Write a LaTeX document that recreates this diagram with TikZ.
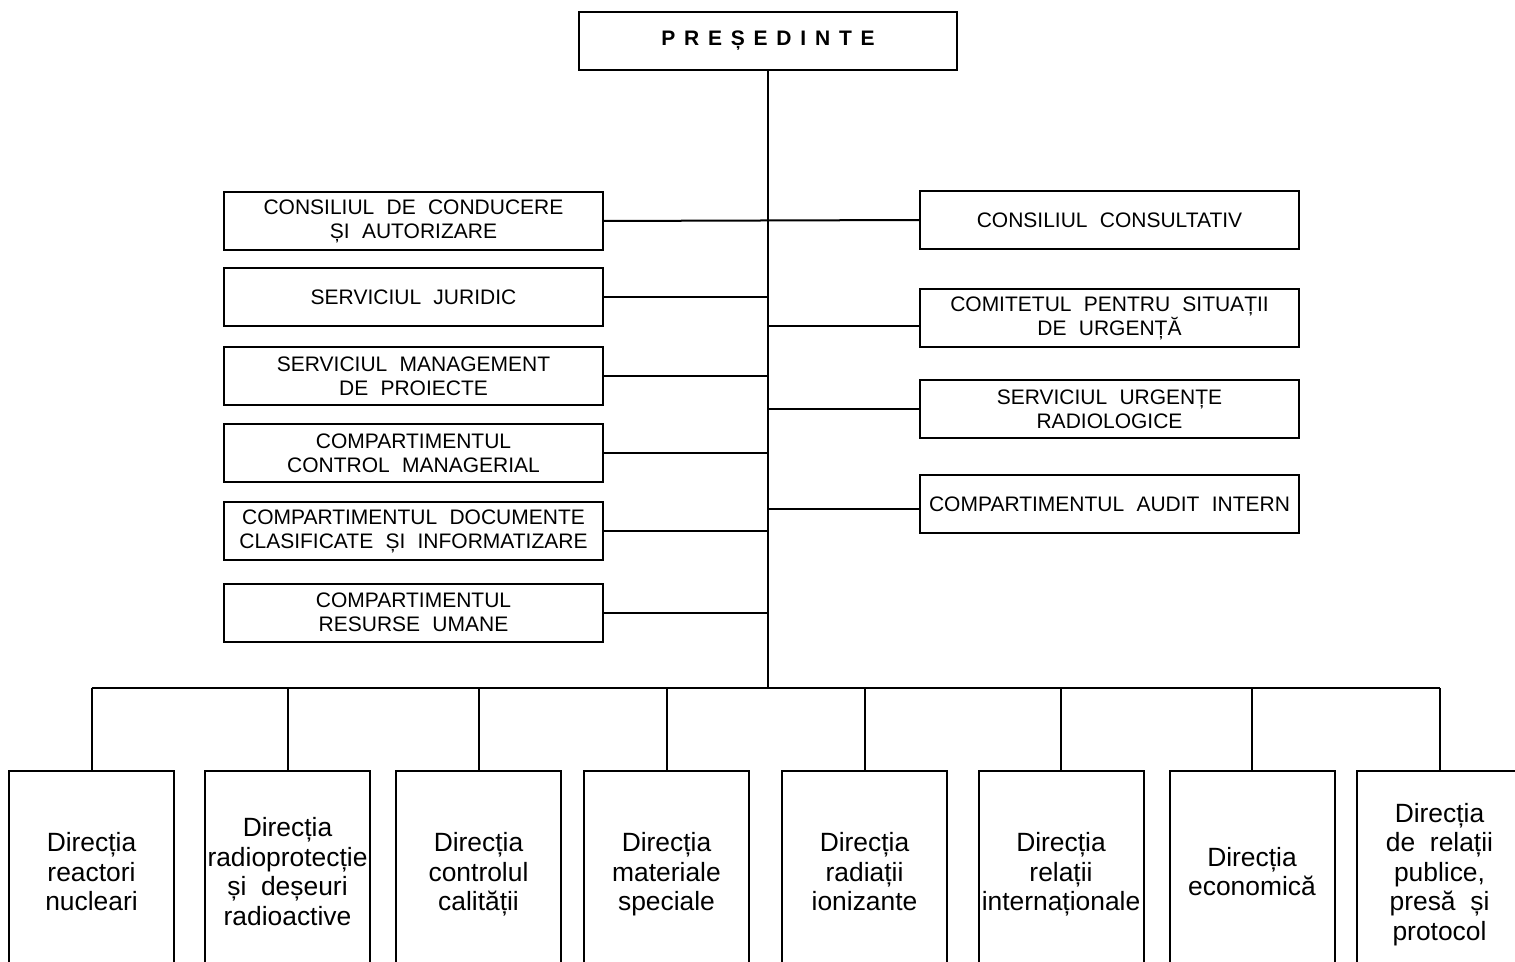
\documentclass[tikz,border=0pt]{standalone}
\usepackage{fontspec}
\setmainfont{Liberation Sans}
\newfontfamily\capsfont[WordSpace=2.1]{Liberation Sans}
\begin{document}
\begin{tikzpicture}[x=0.5pt,y=-0.5pt,line width=1pt,
  box/.style={draw,line width=1pt,inner sep=0pt,outer sep=0pt,align=center},
  sbox/.style={box,minimum width=189.5pt,minimum height=29pt,font=\capsfont\fontsize{10.5}{12}\selectfont},
  dbox/.style={box,minimum width=82.5pt,minimum height=105pt,font=\fontsize{13.2}{14.75}\selectfont,
    execute at begin node={\strut},execute at end node={\strut}},
  link/.style={line width=1pt}]
\clip (0,0) rectangle (1515,962);
% president
\node[box,minimum width=189pt,minimum height=29pt,font=\bfseries\fontsize{10.5}{12}\selectfont] (pres) at (768,41)
  {P\hspace{4.4pt}R\hspace{4.4pt}E\hspace{4.4pt}Ș\hspace{4.4pt}E\hspace{4.4pt}D\hspace{4.4pt}I\hspace{4.4pt}N\hspace{4.4pt}T\hspace{4.4pt}E};
% left
\node[sbox] (l1) at (413.5,221) {CONSILIUL DE CONDUCERE\\ȘI AUTORIZARE};
\node[sbox] (l2) at (413.5,297) {SERVICIUL JURIDIC};
\node[sbox] (l3) at (413.5,376) {SERVICIUL MANAGEMENT\\DE PROIECTE};
\node[sbox] (l4) at (413.5,453) {COMPARTIMENTUL\\CONTROL MANAGERIAL};
\node[sbox] (l5) at (413.5,531) {COMPARTIMENTUL DOCUMENTE\\CLASIFICATE ȘI INFORMATIZARE};
\node[sbox] (l6) at (413.5,612.5) {COMPARTIMENTUL\\RESURSE UMANE};
% right
\node[sbox] (r1) at (1109.5,220) {CONSILIUL CONSULTATIV};
\node[sbox] (r2) at (1109.5,318.5) {COMITETUL PENTRU SITUAȚII\\DE URGENȚĂ};
\node[sbox] (r3) at (1109.5,409) {SERVICIUL URGENȚE\\RADIOLOGICE};
\node[sbox] (r4) at (1109.5,504) {COMPARTIMENTUL AUDIT INTERN};
% bottom
\node[dbox] (b1) at (91.5,876) {Direcția\\reactori\\nucleari};
\node[dbox] (b2) at (287.5,876) {Direcția\\radioprotecție\\și\ \ deșeuri\\radioactive};
\node[dbox] (b3) at (478.5,876) {Direcția\\controlul\\calității};
\node[dbox] (b4) at (666.5,876) {Direcția\\materiale\\speciale};
\node[dbox] (b5) at (864.5,876) {Direcția\\radiații\\ionizante};
\node[dbox] (b6) at (1061,876) {Direcția\\relații\\internaționale};
\node[dbox] (b7) at (1252,876) {Direcția\\economică};
\node[dbox] (b8) at (1439.5,876) {Direcția\\de\ \ relații\\publice,\\presă\ \ și\\protocol};
% connectors
\coordinate (bus) at (768,688);
\coordinate (j2) at (768,326);
\coordinate (j4) at (768,509);
\draw[link] (pres.south) -- (bus);
\draw[link] (b1.north |- bus) -- (b8.north |- bus);
\foreach \i in {1,...,8} {\draw[link] (b\i.north) -- (b\i.north |- bus);}
\draw[link] (l1.east) -- (r1.west);
\foreach \i in {2,...,6} {\draw[link] (l\i.east) -- (l\i.east -| bus);}
\draw[link] (j2) -- (j2 -| r2.west);
\draw[link] (r3.west -| bus) -- (r3.west);
\draw[link] (j4) -- (j4 -| r4.west);
\end{tikzpicture}
\end{document}
